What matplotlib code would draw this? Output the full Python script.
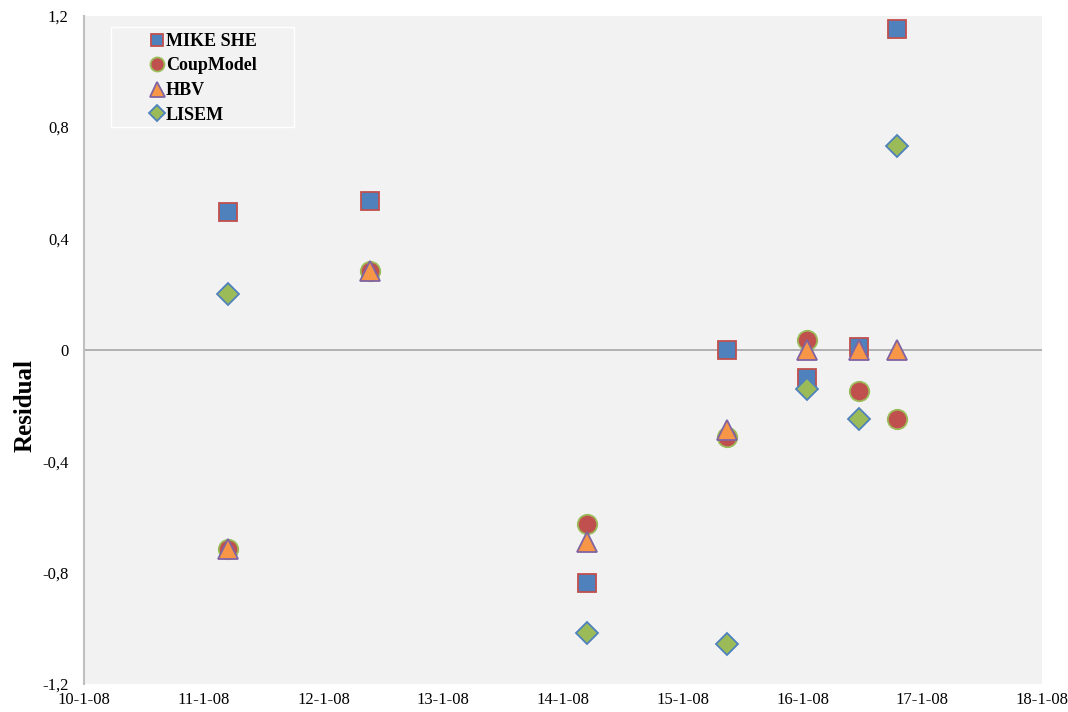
import matplotlib
matplotlib.use("Agg")
import matplotlib.pyplot as plt
import matplotlib.dates as mdates
from matplotlib.ticker import FuncFormatter
from matplotlib.patches import Rectangle
import numpy as np
import pandas as pd

# sample times
times = pd.to_datetime(["2008-01-11 04:50", "2008-01-12 09:20", "2008-01-14 04:50",
                        "2008-01-15 08:55", "2008-01-16 00:50", "2008-01-16 11:15",
                        "2008-01-16 19:00"])

mike_she = [0.493, 0.533, -0.837, 0.0, -0.10, 0.01, 1.150]
coupmodel = [-0.716, 0.282, -0.626, -0.314, 0.034, -0.148, -0.247]
hbv = [-0.716, 0.282, -0.690, -0.289, 0.0, 0.0, 0.0]
lisem = [0.199, np.nan, -1.018, -1.058, -0.142, -0.249, 0.731]

yticks = [-1.2, -0.8, -0.4, 0, 0.4, 0.8, 1.2]

plt.rcParams['font.family'] = ['Liberation Serif', 'DejaVu Serif']

fig = plt.figure(figsize=(10.68, 7.12), dpi=100)
ax = fig.add_axes([84/1068, 1-684/712, (1042-84)/1068, (684-15.5)/712])
ax.set_facecolor('#f2f2f2')

ax.axhline(0, color='#a6a6a6', lw=1.2, zorder=1)

ax.plot(times, mike_she, ls='none', marker='s', ms=12.5, mfc='#4f81bd', mec='#c0504d',
        mew=1.3, label='MIKE SHE', zorder=3)
ax.plot(times, coupmodel, ls='none', marker='o', ms=14, mfc='#c0504d', mec='#9bbb59',
        mew=1.3, label='CoupModel', zorder=4)
ax.plot(times, hbv, ls='none', marker='^', ms=15, mfc='#f79646', mec='#8064a2',
        mew=1.3, label='HBV', zorder=5)
ax.plot(times, lisem, ls='none', marker='D', ms=11, mfc='#9bbb59', mec='#4f81bd',
        mew=1.3, label='LISEM', zorder=6)

ax.set_xlim(pd.Timestamp("2008-01-10"), pd.Timestamp("2008-01-18"))
ax.set_ylim(-1.2, 1.2)
ax.xaxis.set_major_locator(mdates.DayLocator())
ax.xaxis.set_major_formatter(FuncFormatter(
    lambda v, p: "%d-%d-%s" % (mdates.num2date(v).day, mdates.num2date(v).month,
                               mdates.num2date(v).strftime("%y"))))
ax.set_yticks(yticks)
ax.yaxis.set_major_formatter(FuncFormatter(
    lambda v, p: "0" if abs(v) < 1e-9 else ("%.1f" % v).replace(".", ",")))
ax.tick_params(axis='both', length=0, labelsize=12)
ax.tick_params(axis='y', pad=11)
ax.tick_params(axis='x', pad=6)

for s in ['top', 'right', 'bottom']:
    ax.spines[s].set_visible(False)
ax.spines['left'].set_color('#bfbfbf')
ax.spines['left'].set_linewidth(1.5)

ax.set_ylabel('Residual', fontsize=18, fontweight='bold')
ax.yaxis.set_label_coords(-0.050, 0.416)

# legend box drawn separately, entries placed inside it
ax.add_patch(Rectangle((0.0279, 0.8328), 0.1917, 0.1496, transform=ax.transAxes,
                       facecolor='#f2f2f2', edgecolor='white', lw=1.0, zorder=7))
leg = ax.legend(loc='upper left', bbox_to_anchor=(0.0703, 0.974), frameon=False,
                prop={'weight': 'bold', 'size': 13}, markerscale=0.72,
                handlelength=0.6, handletextpad=0.2, borderpad=0,
                labelspacing=0.42, borderaxespad=0)
leg.set_zorder(8)

fig.savefig('out.png', dpi=100)
